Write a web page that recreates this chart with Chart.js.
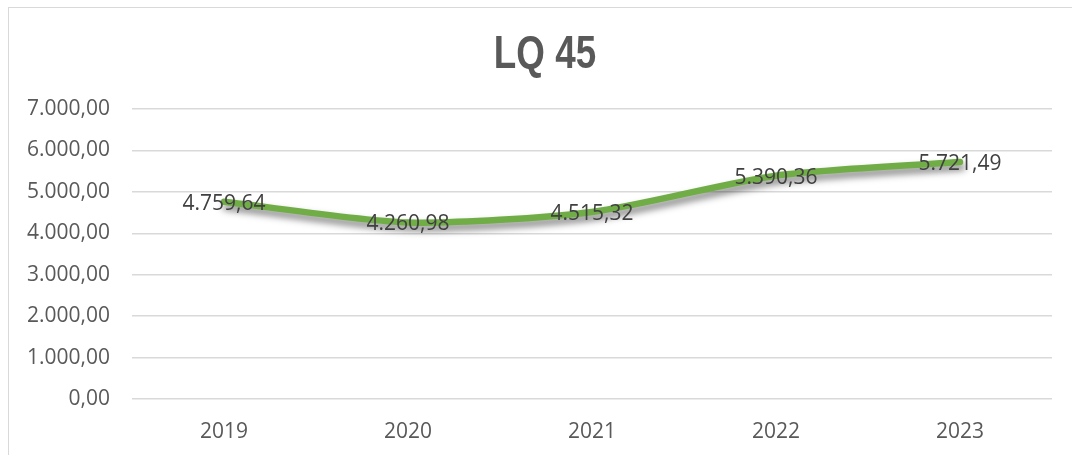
<!DOCTYPE html>
<html>
<head>
<meta charset="utf-8">
<script src="https://cdn.jsdelivr.net/npm/chart.js@4.4.0/dist/chart.umd.min.js"></script>
<style>
  html, body { margin: 0; padding: 0; background: #fff; overflow: hidden; }
  #wrap { position: relative; width: 1072px; height: 455px; overflow: hidden; }
  #frame { position: absolute; left: 8px; top: 7px; width: 1100px; height: 500px; border: 1px solid #d9d9d9; box-sizing: border-box; }
  canvas { position: absolute; left: 0; top: 0; }
</style>
</head>
<body>
<div id="wrap">
  <div id="frame"></div>
  <canvas id="lqChart" width="1072" height="455"></canvas>
</div>
<script>
const years = ['2019', '2020', '2021', '2022', '2023'];
const lqValues = [4759.64, 4260.98, 4515.32, 5390.36, 5721.49];
const yTicks = [0, 1000, 2000, 3000, 4000, 5000, 6000, 7000];
const chartTitle = 'LQ 45';

// 4759.64 -> "4.759,64"
function fmt(v) {
    const parts = v.toFixed(2).split('.');
    const intPart = parts[0].replace(/\B(?=(\d{3})+(?!\d))/g, '.');
    return intPart + ',' + parts[1];
}

const shadowPlugin = {
    id: 'lineShadow',
    beforeDatasetDraw(chart) {
        const ctx = chart.ctx;
        ctx.save();
        ctx.shadowColor = 'rgba(0,0,0,0.5)';
        ctx.shadowBlur = 7;
        ctx.shadowOffsetX = 2;
        ctx.shadowOffsetY = 5;
    },
    afterDatasetDraw(chart) {
        chart.ctx.restore();
    }
};

const valueLabels = {
    id: 'valueLabels',
    afterDatasetsDraw(chart) {
        const ctx = chart.ctx;
        const meta = chart.getDatasetMeta(0);
        ctx.save();
        ctx.font = '21px "Open Sans", sans-serif';
        ctx.fillStyle = '#404040';
        ctx.textAlign = 'center';
        ctx.textBaseline = 'middle';
        meta.data.forEach((pt, i) => {
            ctx.fillText(fmt(lqValues[i]), pt.x, pt.y + 2);
        });
        ctx.restore();
    }
};

// narrow bold title, centred on the frame
const titlePlugin = {
    id: 'narrowTitle',
    afterDraw(chart) {
        const ctx = chart.ctx;
        ctx.save();
        ctx.translate(545, 55);
        ctx.scale(0.8, 1);
        ctx.font = 'bold 46px "Liberation Sans", Arial, sans-serif';
        ctx.fillStyle = '#595959';
        ctx.textAlign = 'center';
        ctx.textBaseline = 'middle';
        ctx.fillText(chartTitle, 0, 0);
        ctx.restore();
    }
};

const ctx = document.getElementById('lqChart').getContext('2d');
const lqChart = new Chart(ctx, {
    type: 'line',
    data: {
        labels: years,
        datasets: [{
            label: chartTitle,
            data: lqValues,
            borderColor: '#70ad47',
            borderWidth: 6.5,
            tension: 0.25,
            pointRadius: 0,
            borderCapStyle: 'round',
            fill: false
        }]
    },
    options: {
        responsive: false,
        animation: false,
        layout: {
            padding: { left: 0, right: 20, top: 109, bottom: 14 }
        },
        plugins: {
            legend: { display: false },
            tooltip: { enabled: false },
            title: { display: false }
        },
        scales: {
            x: {
                offset: true,
                afterFit: s => { s.height = 42; },
                grid: { display: false, drawTicks: false },
                border: { display: false },
                ticks: {
                    color: '#595959',
                    font: { family: '"Open Sans", sans-serif', size: 21 },
                    padding: 20
                }
            },
            y: {
                min: 0,
                max: 7000,
                afterFit: s => { s.width = 132; },
                afterBuildTicks: s => { s.ticks = yTicks.map(v => ({ value: v })); },
                grid: { color: '#d9d9d9', lineWidth: 1.5, drawTicks: false },
                border: { display: false },
                ticks: {
                    color: '#595959',
                    font: { family: '"Open Sans", sans-serif', size: 21 },
                    padding: 22,
                    callback: v => fmt(v)
                }
            }
        }
    },
    plugins: [shadowPlugin, valueLabels, titlePlugin]
});
</script>
</body>
</html>
